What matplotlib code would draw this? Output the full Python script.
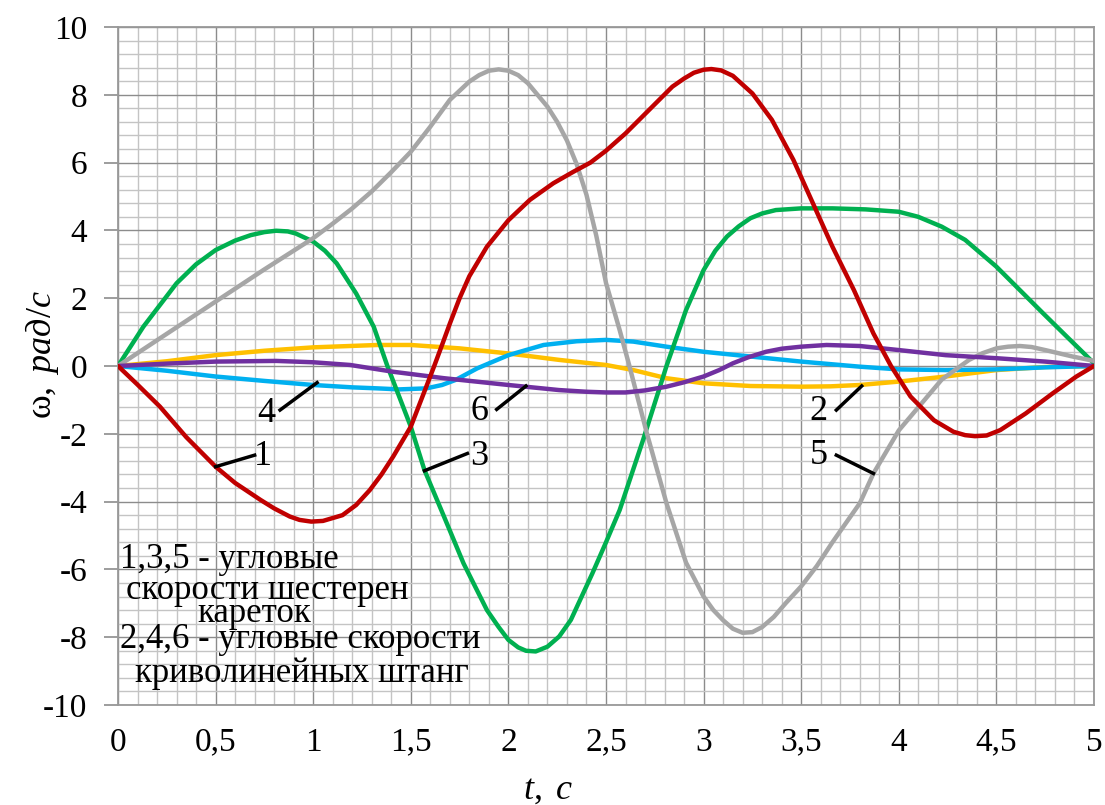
import matplotlib
matplotlib.use("Agg")
import matplotlib.pyplot as plt
from matplotlib.ticker import MultipleLocator, FixedLocator, FixedFormatter

plt.rcParams['font.family'] = ['Liberation Serif', 'DejaVu Serif']
plt.rcParams['mathtext.fontset'] = 'custom'
plt.rcParams['mathtext.rm'] = 'Liberation Serif'
plt.rcParams['mathtext.it'] = 'Liberation Serif:italic'
plt.rcParams['axes.unicode_minus'] = False

# curve 1 - red
t1 = [0, 0.1, 0.215, 0.35, 0.5, 0.6, 0.73, 0.8, 0.88, 0.93, 0.99, 1.05, 1.15, 1.22, 1.29, 1.35, 1.41,
      1.5, 1.58, 1.62, 1.66, 1.70, 1.75, 1.80, 1.89, 2.0, 2.11, 2.23, 2.33, 2.42, 2.5, 2.6, 2.72, 2.84,
      2.9, 2.95, 3.0, 3.04, 3.09, 3.15, 3.25, 3.35, 3.46, 3.56, 3.66, 3.77, 3.87, 3.96, 4.06, 4.18,
      4.28, 4.34, 4.39, 4.45, 4.52, 4.65, 4.79, 4.91, 5.0]
w1 = [0, -0.55, -1.2, -2.1, -2.97, -3.45, -3.95, -4.2, -4.44, -4.54, -4.59, -4.57, -4.4, -4.1, -3.66,
      -3.2, -2.67, -1.79, -0.6, 0.0, 0.62, 1.25, 2.0, 2.65, 3.52, 4.3, 4.9, 5.39, 5.72, 6.0, 6.35, 6.86,
      7.55, 8.24, 8.48, 8.65, 8.74, 8.76, 8.72, 8.56, 8.04, 7.26, 6.08, 4.8, 3.52, 2.24, 0.96, 0.0,
      -0.9, -1.6, -1.94, -2.04, -2.07, -2.05, -1.89, -1.4, -0.8, -0.31, 0.0]

# curve 2 - yellow
t2 = [0, 0.25, 0.5, 0.75, 1.0, 1.33, 1.5, 1.75, 2.0, 2.26, 2.5, 2.64, 2.81, 3.0, 3.24, 3.5, 3.65,
      3.8, 4.0, 4.24, 4.5, 4.75, 5.0]
w2 = [0, 0.14, 0.32, 0.45, 0.55, 0.62, 0.62, 0.52, 0.37, 0.18, 0.03, -0.12, -0.36, -0.51, -0.59,
      -0.61, -0.6, -0.56, -0.46, -0.31, -0.12, -0.03, 0.0]

# curve 3 - green
t3 = [0, 0.13, 0.3, 0.4, 0.5, 0.6, 0.68, 0.75, 0.81, 0.87, 0.91, 1.0, 1.06, 1.12, 1.22, 1.31, 1.38,
      1.5, 1.57, 1.67, 1.77, 1.89, 1.95, 2.0, 2.05, 2.09, 2.14, 2.2, 2.26, 2.32, 2.43, 2.5, 2.57, 2.69,
      2.81, 2.91, 3.0, 3.06, 3.12, 3.18, 3.24, 3.3, 3.37, 3.5, 3.66, 3.83, 4.0, 4.1, 4.22, 4.34, 4.5,
      4.62, 4.74, 4.86, 5.0]
w3 = [0, 1.16, 2.44, 3.0, 3.42, 3.7, 3.86, 3.95, 3.99, 3.97, 3.91, 3.67, 3.4, 3.03, 2.14, 1.16, 0.0,
      -1.79, -3.07, -4.44, -5.82, -7.2, -7.7, -8.08, -8.3, -8.4, -8.42, -8.28, -7.98, -7.49, -6.12,
      -5.2, -4.25, -2.18, 0.0, 1.65, 2.83, 3.4, 3.82, 4.12, 4.36, 4.5, 4.6, 4.65, 4.65, 4.62, 4.55,
      4.4, 4.11, 3.72, 2.93, 2.24, 1.55, 0.87, 0.08]

# curve 4 - cyan
t4 = [0, 0.25, 0.5, 0.75, 1.0, 1.2, 1.33, 1.44, 1.58, 1.66, 1.73, 1.84, 2.0, 2.18, 2.35, 2.5, 2.64,
      2.81, 3.0, 3.24, 3.5, 3.8, 4.0, 4.24, 4.5, 4.75, 5.0]
w4 = [0, -0.14, -0.31, -0.44, -0.56, -0.63, -0.66, -0.69, -0.66, -0.56, -0.41, -0.07, 0.32, 0.62,
      0.73, 0.77, 0.72, 0.57, 0.42, 0.28, 0.13, -0.02, -0.1, -0.12, -0.1, -0.04, 0.0]

# curve 5 - gray
t5 = [0, 0.25, 0.5, 0.75, 1.0, 1.1, 1.2, 1.3, 1.4, 1.5, 1.6, 1.7, 1.8, 1.85, 1.9, 1.95, 2.0, 2.05,
      2.1, 2.2, 2.25, 2.3, 2.35, 2.4, 2.45, 2.5, 2.57, 2.62, 2.71, 2.81, 2.91, 3.0, 3.05, 3.1, 3.15,
      3.2, 3.25, 3.3, 3.36, 3.42, 3.5, 3.58, 3.66, 3.8, 3.87, 4.0, 4.11, 4.22, 4.36, 4.43, 4.5, 4.56,
      4.62, 4.68, 4.75, 4.89, 5.0]
w5 = [0, 0.95, 1.9, 2.85, 3.77, 4.2, 4.65, 5.15, 5.72, 6.32, 7.06, 7.85, 8.39, 8.58, 8.71, 8.75, 8.71,
      8.58, 8.34, 7.65, 7.2, 6.65, 5.95, 5.05, 3.85, 2.45, 1.06, 0.0, -2.0, -4.05, -5.8, -6.8, -7.2,
      -7.5, -7.75, -7.87, -7.85, -7.7, -7.4, -7.0, -6.5, -5.9, -5.2, -4.05, -3.17, -1.9, -1.15, -0.4,
      0.18, 0.38, 0.52, 0.57, 0.59, 0.56, 0.47, 0.28, 0.15]

# curve 6 - purple
t6 = [0, 0.25, 0.5, 0.81, 1.0, 1.19, 1.41, 1.67, 2.0, 2.26, 2.4, 2.5, 2.6, 2.7, 2.81, 2.9, 3.0, 3.08,
      3.15, 3.23, 3.32, 3.4, 3.5, 3.63, 3.8, 4.0, 4.24, 4.5, 4.75, 5.0]
w6 = [0, 0.07, 0.13, 0.15, 0.11, 0.03, -0.17, -0.36, -0.56, -0.71, -0.76, -0.78, -0.78, -0.72, -0.61,
      -0.48, -0.31, -0.12, 0.08, 0.26, 0.42, 0.51, 0.57, 0.62, 0.59, 0.47, 0.32, 0.23, 0.13, 0.0]

x_ticks = [0, 0.5, 1, 1.5, 2, 2.5, 3, 3.5, 4, 4.5, 5]
x_labels = ['0', '0,5', '1', '1,5', '2', '2,5', '3', '3,5', '4', '4,5', '5']

# number labels: text pos, leader start (on curve), leader end
labels = [
    ('1', (0.74, -2.68), (0.5, -2.97), (0.70, -2.63)),
    ('4', (0.76, -1.40), (1.02, -0.49), (0.83, -1.30)),
    ('3', (1.85, -2.67), (1.57, -3.09), (1.79, -2.58)),
    ('6', (1.85, -1.35), (2.09, -0.59), (1.94, -1.28)),
    ('2', (3.59, -1.35), (3.81, -0.59), (3.68, -1.30)),
    ('5', (3.59, -2.63), (3.87, -3.17), (3.68, -2.63)),
]

fig = plt.figure(figsize=(11.05, 8.05), dpi=100)
ax = fig.add_axes([118 / 1105, 1 - 705 / 805, (1094 - 118) / 1105, (705 - 27) / 805])

style = dict(lw=3.2, solid_capstyle='round', solid_joinstyle='round', zorder=3)
ax.plot(t2, w2, color='#FFC000', **style)
ax.plot(t4, w4, color='#00B0F0', **style)
ax.plot(t3, w3, color='#00B050', **style)
ax.plot(t5, w5, color='#A6A6A6', **style)
ax.plot(t6, w6, color='#7030A0', **style)
ax.plot(t1, w1, color='#C00000', **style)

for txt, pos, a, b in labels:
    ax.plot([a[0], b[0]], [a[1], b[1]], color='black', lw=2.5, zorder=4)
    ax.text(pos[0], pos[1], txt, fontsize=26, ha='center', va='center', zorder=5)

ax.set_xlim(0, 5)
ax.set_ylim(-10, 10)
ax.xaxis.set_major_locator(FixedLocator(x_ticks))
ax.xaxis.set_major_formatter(FixedFormatter(x_labels))
ax.xaxis.set_minor_locator(MultipleLocator(0.1))
ax.yaxis.set_major_locator(MultipleLocator(2))
ax.yaxis.set_minor_locator(MultipleLocator(0.4))
ax.grid(which='minor', color='#c4c4c4', lw=1.0, zorder=0)
ax.grid(which='major', color='#8c8c8c', lw=1.0, zorder=0)
ax.set_axisbelow(True)
ax.tick_params(axis='x', which='both', length=0, pad=16, labelsize=24)
ax.tick_params(axis='y', which='major', length=10, width=1.2, color='#8c8c8c', pad=12, labelsize=24)
ax.tick_params(axis='y', which='minor', length=0)
for s in ax.spines.values():
    s.set_color('#999999')
    s.set_linewidth(1.3)

fig.text(42 / 1105, 1 - 355 / 805, r'$\mathrm{ω},\ \mathit{рад/с}$', fontsize=26,
         rotation=90, ha='center', va='center')
fig.text(548 / 1105, 1 - 790 / 805, r'$\mathit{t},\ \mathit{c}$', fontsize=26, ha='center', va='center')

# annotation block
fs = 25
ax.text(0.01, -5.72, '1,3,5 - угловые', fontsize=fs, ha='left', va='center', zorder=5)
ax.text(0.765, -6.61, 'скорости шестерен', fontsize=fs, ha='center', va='center', zorder=5)
ax.text(0.70, -7.29, 'кареток', fontsize=fs, ha='center', va='center', zorder=5)
ax.text(0.01, -8.08, '2,4,6 - угловые скорости', fontsize=fs, ha='left', va='center', zorder=5)
ax.text(0.94, -9.06, 'криволинейных штанг', fontsize=fs, ha='center', va='center', zorder=5)

fig.savefig('out.png', dpi=100)
